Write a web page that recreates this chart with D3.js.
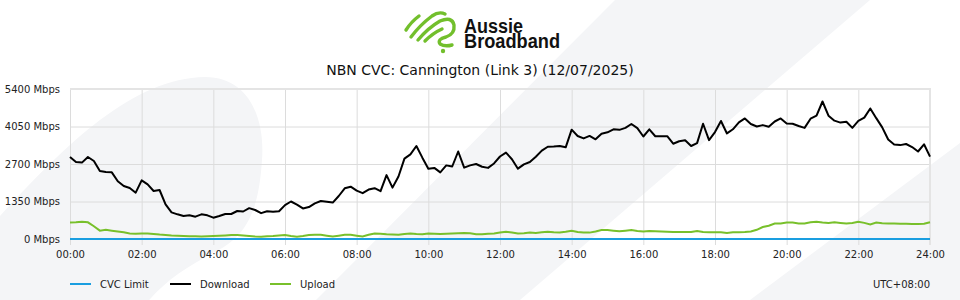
<!DOCTYPE html>
<html>
<head>
<meta charset="utf-8">
<script src="https://cdn.jsdelivr.net/npm/d3@7/dist/d3.min.js"></script>
<style>
  body { margin: 0; background: #fff; }
  text { font-family: "DejaVu Sans", sans-serif; }
</style>
</head>
<body>
<div id="chart"></div>
<script>
// 10 minute samples, 00:00 -> 24:00 (Mbps)
const download = [
  2952, 2772, 2750, 2952, 2808, 2450, 2412, 2400, 2080, 1908, 1836, 1668, 2112, 1968, 1728, 1764, 1248, 960, 888, 828, 852,
  804, 888, 852, 768, 828, 900, 900, 1008, 990, 1110, 1044, 930, 1000, 980, 1000, 1220, 1350, 1240, 1100, 1150, 1284,
  1368, 1344, 1310, 1548, 1824, 1884, 1740, 1650, 1780, 1830, 1720, 2300, 1850, 2250, 2892, 3048, 3348, 2928, 2532, 2560,
  2400, 2650, 2610, 3150, 2570, 2650, 2700, 2600, 2560, 2720, 2970, 3110, 2870, 2532, 2688, 2772, 2960, 3180, 3320, 3330, 3350,
  3300, 3936, 3708, 3620, 3710, 3590, 3790, 3840, 3950, 3930, 4000, 4140, 3990, 3690, 3948, 3700, 3700, 3700, 3430, 3520,
  3552, 3348, 3450, 4150, 3560, 3850, 4250, 3800, 3950, 4200, 4340, 4140, 4050, 4100, 4040, 4230, 4340, 4160, 4150, 4070,
  4000, 4330, 4440, 4950, 4440, 4260, 4190, 4220, 4000, 4250, 4368, 4700, 4350, 4020, 3580, 3400, 3380, 3420, 3310, 3150, 3410, 2964
];
const upload = [
  590, 600, 620, 600, 460, 300, 330, 300, 270, 240, 200, 190, 200, 200, 180, 160, 145, 130, 120, 110, 100,
  95, 90, 100, 110, 120, 130, 140, 140, 130, 110, 90, 85, 100, 110, 130, 140, 110, 85, 110, 140, 150,
  150, 120, 90, 120, 150, 150, 120, 90, 150, 200, 190, 170, 160, 150, 180, 200, 180, 170, 200, 190,
  180, 190, 200, 210, 220, 210, 170, 170, 190, 200, 230, 260, 230, 200, 210, 230, 220, 240, 260, 240, 230,
  260, 300, 250, 230, 230, 270, 320, 320, 300, 280, 300, 320, 290, 270, 290, 280, 270, 260, 250, 250,
  250, 250, 290, 250, 240, 240, 240, 220, 240, 240, 250, 270, 330, 430, 480, 560, 560, 590, 590, 560,
  560, 600, 620, 590, 580, 600, 580, 560, 580, 620, 580, 520, 590, 570, 560, 560, 550, 550, 540, 540, 550, 600
];
const cvcTimes = ["00:00", "24:00"];
const cvcLimit = [0, 0];

const xTickLabels = ["00:00", "02:00", "04:00", "06:00", "08:00", "10:00", "12:00",
                     "14:00", "16:00", "18:00", "20:00", "22:00", "24:00"];
const yTickValues = [0, 1350, 2700, 4050, 5400];
const seriesNames = ["CVC Limit", "Download", "Upload"];
const seriesColors = ["#1a9ee0", "#000000", "#78c02b"];
const title = "NBN CVC: Cannington (Link 3) (12/07/2025)";
const timezone = "UTC+08:00";
const sampleMinutes = 10;

const W = 960, H = 300;
const plot = {left: 70, right: 930, top: 89, bottom: 239};

const toMin = s => +s.slice(0, 2) * 60 + +s.slice(3);

const svg = d3.select("#chart").append("svg")
    .attr("width", W).attr("height", H);

// background decoration
const bg = svg.append("g").attr("fill", "#f4f5f7");
bg.append("rect").attr("width", W).attr("height", H).attr("fill", "#fff");
bg.append("path").attr("d", "M615,0 L870,0 L520,300 L316,300 Z");
bg.append("path").attr("d", "M960,143 L960,300 L750,300 Z");
bg.append("path").attr("d",
  "M-10,227 C60,150 130,78 205,77 C250,77 265,120 262,160 C259,205 250,235 215,252 C190,265 165,280 145,305 L-10,305 Z");

// logo
const logo = svg.append("g");
logo.append("g")
    .attr("fill", "none").attr("stroke", "#72bf2c").attr("stroke-width", 3.4)
    .attr("stroke-linecap", "round").attr("stroke-linejoin", "round")
  .selectAll("path")
  .data([
    "M406,30 Q411,22 419,16",
    "M411,37 Q420,25 432,16 Q439,11 445,14",
    "M418,40 Q428,28 440,21 Q452,16 454,25 Q455,34 446,37 Q437,39 440,44 Q445,47 452,45",
    "M425,41 Q433,33 442,29",
  ])
  .join("path").attr("d", d => d);
logo.append("circle").attr("cx", 443).attr("cy", 51).attr("r", 2.2).attr("fill", "#72bf2c");
const brand = logo.append("text")
    .attr("font-weight", "bold").attr("font-size", 20).attr("fill", "#111")
    .style("font-family", "'Liberation Sans', Arial, sans-serif");
brand.append("tspan").attr("x", 464).attr("y", 33)
    .attr("textLength", 59).attr("lengthAdjust", "spacingAndGlyphs")
    .text("Aussie");
brand.append("tspan").attr("x", 464).attr("y", 48)
    .attr("textLength", 96).attr("lengthAdjust", "spacingAndGlyphs")
    .text("Broadband");

// title
svg.append("text")
    .attr("x", 480).attr("y", 75)
    .attr("text-anchor", "middle")
    .attr("font-size", 14).attr("fill", "#111")
    .text(title);

const x = d3.scaleLinear().domain([0, 1440]).range([plot.left, plot.right]);
const y = d3.scaleLinear().domain([0, 5400]).range([plot.bottom, plot.top]);

// y axis + horizontal grid
const yAxis = svg.append("g")
    .attr("transform", `translate(${plot.left},0)`)
    .call(d3.axisLeft(y).tickValues(yTickValues)
      .tickFormat(d => d + " Mbps")
      .tickSize(-(plot.right - plot.left)).tickPadding(10));
yAxis.select(".domain").remove();
yAxis.selectAll("line").attr("stroke", "#dcdcdc");
yAxis.selectAll("text").attr("font-size", 10).attr("fill", "#222")
    .style("font-family", "'DejaVu Sans', sans-serif");

// x axis + vertical grid
const xAxis = svg.append("g")
    .attr("transform", `translate(0,${plot.bottom + 6})`)
    .call(d3.axisBottom(x).tickValues(xTickLabels.map(toMin))
      .tickFormat((d, i) => xTickLabels[i])
      .tickSize(-(plot.bottom - plot.top + 6)).tickPadding(6));
xAxis.select(".domain").remove();
xAxis.selectAll("line").attr("stroke", "#dcdcdc");
xAxis.selectAll("text").attr("font-size", 10).attr("fill", "#222")
    .style("font-family", "'DejaVu Sans', sans-serif");

// frame top / right
svg.append("line").attr("x1", plot.left).attr("x2", plot.right + 1)
    .attr("y1", plot.top).attr("y2", plot.top)
    .attr("stroke", "#e4e4e4").attr("stroke-width", 2);
svg.append("line").attr("x1", plot.right).attr("x2", plot.right)
    .attr("y1", plot.top).attr("y2", plot.bottom + 6)
    .attr("stroke", "#e4e4e4").attr("stroke-width", 2);

const line = d3.line()
    .x((d, i) => x(i * sampleMinutes))
    .y(d => y(d));

svg.append("path").datum(upload)
    .attr("fill", "none").attr("stroke", seriesColors[2]).attr("stroke-width", 2)
    .attr("d", line);
svg.append("path").datum(download)
    .attr("fill", "none").attr("stroke", seriesColors[1]).attr("stroke-width", 2)
    .attr("stroke-linejoin", "round")
    .attr("d", line);
svg.append("path").datum(cvcLimit)
    .attr("fill", "none").attr("stroke", seriesColors[0]).attr("stroke-width", 2)
    .attr("d", d3.line().x((d, i) => x(toMin(cvcTimes[i]))).y(d => y(d)));

// legend
const legend = svg.append("g").attr("transform", "translate(70,284)");
const item = legend.selectAll("g").data(seriesNames).join("g")
    .attr("transform", (d, i) => `translate(${i * 100},0)`);
item.append("line").attr("x1", 0).attr("x2", 21)
    .attr("stroke", (d, i) => seriesColors[i]).attr("stroke-width", 2);
item.append("text").attr("x", 30).attr("y", 4)
    .attr("font-size", 10).attr("fill", "#222").text(d => d);

svg.append("text").attr("x", 930).attr("y", 288)
    .attr("text-anchor", "end").attr("font-size", 10).attr("fill", "#222")
    .text(timezone);
</script>
</body>
</html>
